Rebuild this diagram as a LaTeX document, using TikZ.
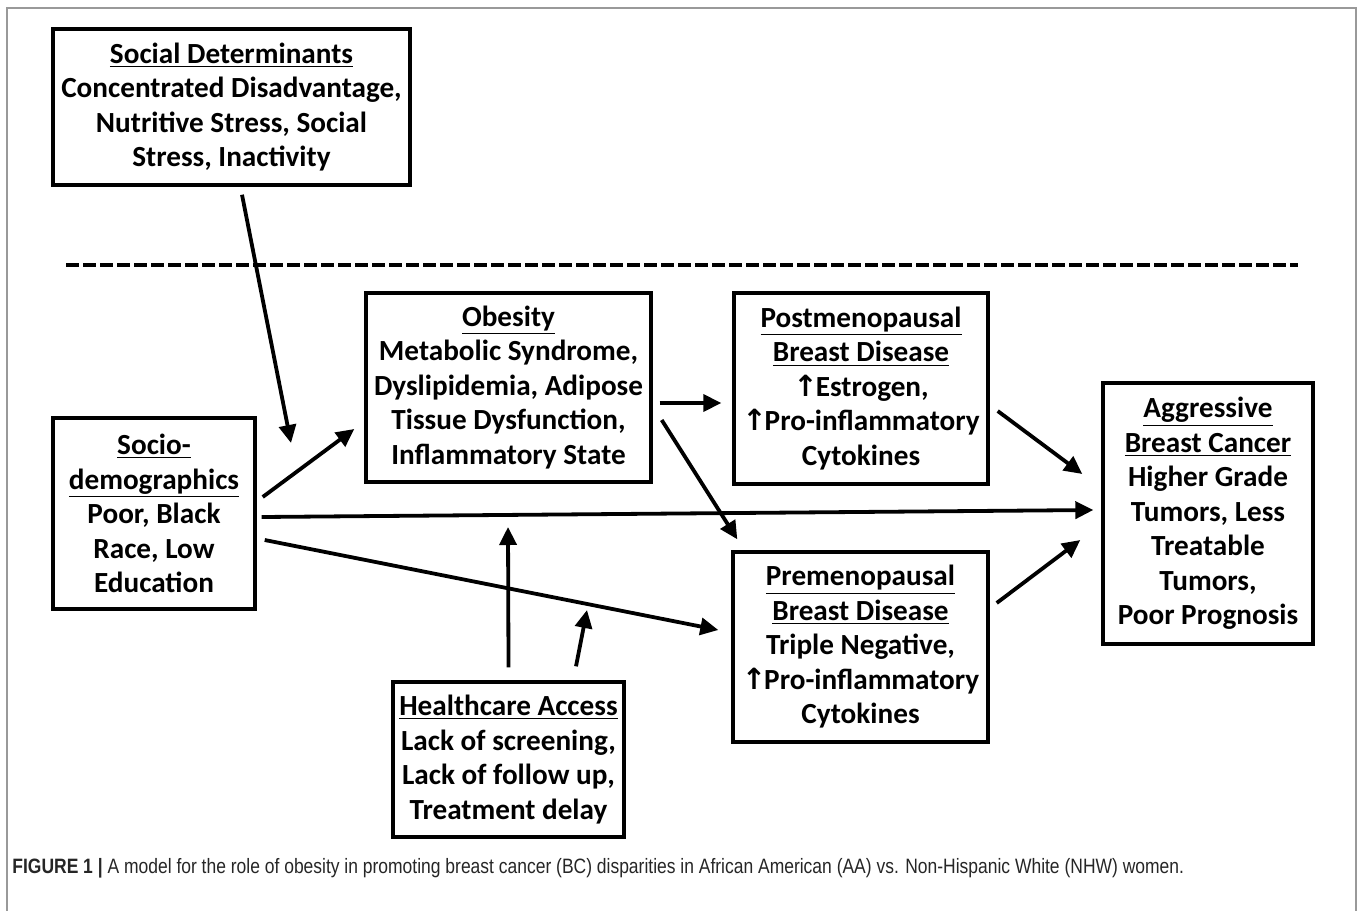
\documentclass[tikz,border=0pt]{standalone}
\usepackage{fontspec}
\setmainfont{Carlito}
\newfontfamily\setafont{DejaVu Sans}
\newfontfamily\legfont[FakeStretch=0.84]{Liberation Sans}
\usetikzlibrary{arrows.meta,calc}

\tikzset{
  caixa/.style={draw, line width=1.7pt, align=center, inner sep=0pt,
    font=\bfseries\fontsize{14.6pt}{17.25pt}\selectfont},
  seta/.style={line width=1.9pt, -{Triangle[length=9pt,width=8.5pt]}},
}
\newcommand{\sobe}{{\setafont ↑}\kern-1pt}

\begin{document}
\begin{tikzpicture}[x=0.5pt,y=-0.5pt]
  \useasboundingbox (0,0) rectangle (1358,910);
  \draw[black!40, line width=0.8pt] (7,930) -- (7,8) -- (1356,8) -- (1356,930);

  \node[caixa, minimum width=178.5pt, minimum height=78pt] (social) at (231.5,107)
    {\underline{Social Determinants}\\Concentrated Disadvantage,\\Nutritive Stress, Social\\Stress, Inactivity};
  \node[caixa, minimum width=101pt, minimum height=95.5pt] (socio) at (154,513.5)
    {\underline{Socio-}\\\underline{demographics}\\Poor, Black\\Race, Low\\Education};
  \node[caixa, minimum width=142.5pt, minimum height=94.5pt] (obesity) at (508.5,387.5)
    {\underline{Obesity}\\Metabolic Syndrome,\\Dyslipidemia, Adipose\\Tissue Dysfunction,\\Inflammatory State};
  \node[caixa, minimum width=127pt, minimum height=95.5pt] (post) at (861,388.5)
    {\underline{Postmenopausal}\\\underline{Breast Disease}\\\sobe Estrogen,\\\sobe Pro-inflammatory\\Cytokines};
  \node[caixa, minimum width=127.5pt, minimum height=95pt] (pre) at (860.5,647)
    {\underline{Premenopausal}\\\underline{Breast Disease}\\Triple Negative,\\\sobe Pro-inflammatory\\Cytokines};
  \node[caixa, minimum width=105pt, minimum height=130.5pt] (aggr) at (1208,513.5)
    {\underline{Aggressive}\\\underline{Breast Cancer}\\Higher Grade\\Tumors, Less\\Treatable\\Tumors,\\Poor Prognosis};
  \node[caixa, minimum width=115.5pt, minimum height=77.5pt] (health) at (508.5,759.5)
    {\underline{Healthcare Access}\\Lack of screening,\\Lack of follow up,\\Treatment delay};

  % linha tracejada que separa o nível social do individual
  \draw[line width=2.1pt, dash pattern=on 6.5pt off 2pt] (66,265) -- (1298,265);

  % pontas soltas: as setas moderadoras apontam para outras setas, não para caixas
  \coordinate (mod1) at (291,443);
  \coordinate (mod2) at (508,527);
  \coordinate (mod3) at (587,610);

  \draw[seta] ($(social.south)+(10.5,8)$) -- (mod1);
  \draw[seta] ($(socio.east)+(6,-16.5)$) -- ($(obesity.west)+(-10,41.5)$);
  \draw[seta] ($(socio.east)+(5,3.5)$) -- ($(aggr.west)+(-8,-3.5)$);
  \draw[seta] ($(socio.east)+(8,26.5)$) -- ($(pre.west)+(-13,-17)$);
  \draw[seta] ($(obesity.east)+(7,15.5)$) -- ($(post.west)+(-11,14.5)$);
  \draw[seta] ($(obesity.east)+(9,32.5)$) -- ($(pre.north west)+(6,-11)$);
  \draw[seta] ($(post.east)+(8,22.5)$) -- ($(aggr.west)+(-19,-39.5)$);
  \draw[seta] ($(pre.east)+(7,-44)$) -- ($(aggr.west)+(-21,26.5)$);
  \draw[seta] ($(health.north)+(0,-13)$) -- (mod2);
  \draw[seta] ($(health.north)+(67.5,-14)$) -- (mod3);

  \node[anchor=west, inner sep=0pt, black!85, font=\legfont\fontsize{10.4pt}{12pt}\selectfont] (legenda) at (12,868)
    {\textbf{FIGURE 1 |} A model for the role of obesity in promoting breast cancer (BC) disparities in African American (AA) vs. Non-Hispanic White (NHW) women.};
\end{tikzpicture}
\end{document}
